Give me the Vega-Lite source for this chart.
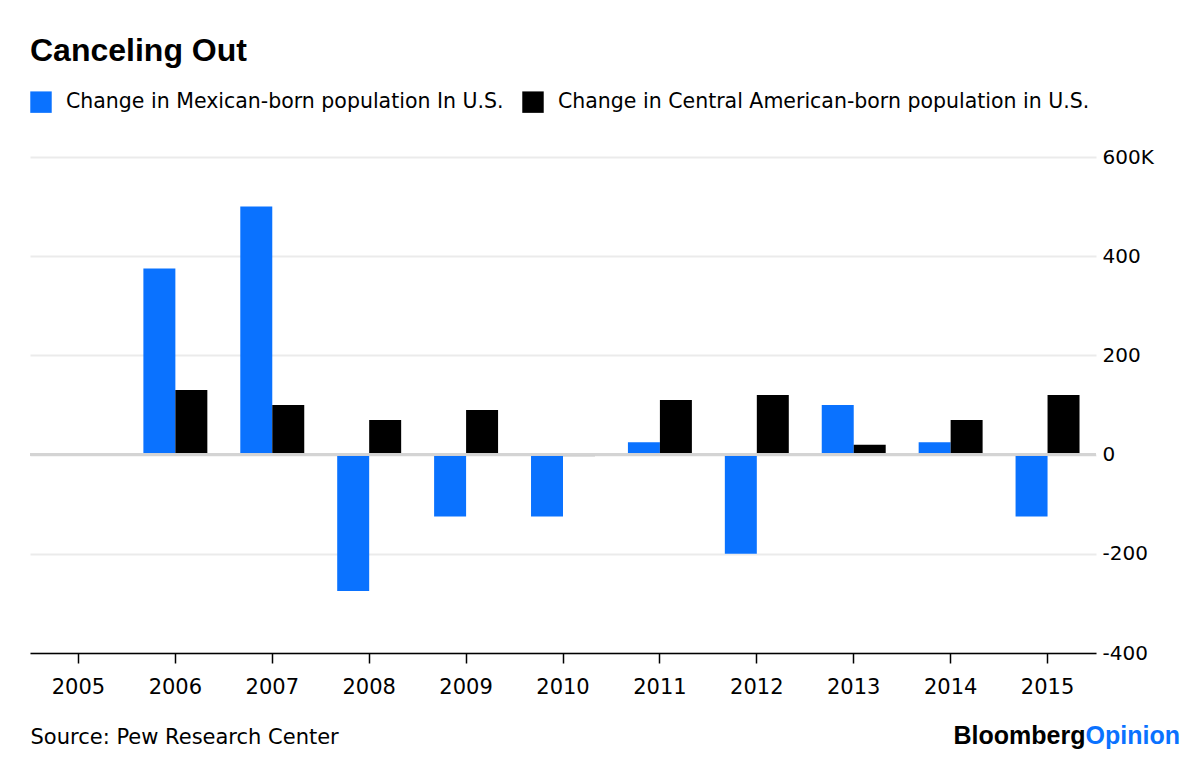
{
  "$schema": "https://vega.github.io/schema/vega-lite/v6.json",
  "autosize": {"type": "none"},
  "width": 1066,
  "height": 496,
  "padding": {"left": 30, "top": 157, "right": 104, "bottom": 109},
  "background": "white",
  "config": {
    "font": "DejaVu Sans",
    "view": {"stroke": null}
  },
  "title": {
    "text": "Canceling Out",
    "anchor": "start",
    "frame": "group",
    "fontSize": 32,
    "fontWeight": "bold",
    "font": "Liberation Sans",
    "color": "black",
    "baseline": "alphabetic",
    "offset": -2
  },
  "data": {
    "values": [
      {"year": "2006", "series": "Change in Mexican-born population In U.S.", "value": 375},
      {"year": "2006", "series": "Change in Central American-born population in U.S.", "value": 130},
      {"year": "2007", "series": "Change in Mexican-born population In U.S.", "value": 500},
      {"year": "2007", "series": "Change in Central American-born population in U.S.", "value": 100},
      {"year": "2008", "series": "Change in Mexican-born population In U.S.", "value": -275},
      {"year": "2008", "series": "Change in Central American-born population in U.S.", "value": 70},
      {"year": "2009", "series": "Change in Mexican-born population In U.S.", "value": -125},
      {"year": "2009", "series": "Change in Central American-born population in U.S.", "value": 90},
      {"year": "2010", "series": "Change in Mexican-born population In U.S.", "value": -125},
      {"year": "2010", "series": "Change in Central American-born population in U.S.", "value": -3},
      {"year": "2011", "series": "Change in Mexican-born population In U.S.", "value": 25},
      {"year": "2011", "series": "Change in Central American-born population in U.S.", "value": 110},
      {"year": "2012", "series": "Change in Mexican-born population In U.S.", "value": -200},
      {"year": "2012", "series": "Change in Central American-born population in U.S.", "value": 120},
      {"year": "2013", "series": "Change in Mexican-born population In U.S.", "value": 100},
      {"year": "2013", "series": "Change in Central American-born population in U.S.", "value": 20},
      {"year": "2014", "series": "Change in Mexican-born population In U.S.", "value": 25},
      {"year": "2014", "series": "Change in Central American-born population in U.S.", "value": 70},
      {"year": "2015", "series": "Change in Mexican-born population In U.S.", "value": -125},
      {"year": "2015", "series": "Change in Central American-born population in U.S.", "value": 120}
    ]
  },
  "layer": [
    {
      "mark": {"type": "bar"},
      "encoding": {
        "x": {
          "field": "year",
          "type": "ordinal",
          "scale": {"domain": ["2005","2006","2007","2008","2009","2010","2011","2012","2013","2014","2015"], "paddingInner": 0.34, "paddingOuter": 0.17},
          "axis": {
            "title": "Source: Pew Research Center",
            "titleFont": "DejaVu Sans",
            "titleFontSize": 21,
            "titleFontWeight": "normal",
            "titleColor": "black",
            "titleAnchor": "start",
            "titleAlign": "left",
            "titleBaseline": "alphabetic",
            "titleX": 0,
            "titleY": 90,
            "labelAngle": 0,
            "labelFontSize": 21,
            "labelColor": "black",
            "labelPadding": 13,
            "domainColor": "black",
            "domainWidth": 1.5,
            "tickColor": "black",
            "tickSize": 10,
            "tickWidth": 1.5,
            "grid": false
          }
        },
        "xOffset": {
          "field": "series",
          "type": "nominal",
          "sort": ["Change in Mexican-born population In U.S.", "Change in Central American-born population in U.S."],
          "scale": {"paddingInner": 0, "paddingOuter": 0}
        },
        "y": {
          "field": "value",
          "type": "quantitative",
          "scale": {"domain": [-400, 600], "nice": false, "zero": false},
          "axis": {
            "orient": "right",
            "values": [-400, -200, 0, 200, 400, 600],
            "labelExpr": "datum.value == 600 ? '600K' : '' + datum.value",
            "labelFontSize": 20,
            "labelColor": "black",
            "labelPadding": 6,
            "ticks": false,
            "domain": false,
            "grid": true,
            "gridColor": "#ebebeb",
            "gridWidth": 2,
            "title": "Bloomberg",
            "titleFont": "Liberation Sans",
            "titleFontSize": 25,
            "titleFontWeight": "bold",
            "titleColor": "black",
            "titleAngle": 0,
            "titleAlign": "right",
            "titleBaseline": "alphabetic",
            "titleX": -11,
            "titleY": 586
          }
        },
        "color": {
          "field": "series",
          "type": "nominal",
          "sort": ["Change in Mexican-born population In U.S.", "Change in Central American-born population in U.S."],
          "scale": {"range": ["#0a72ff", "#000000"]},
          "legend": {
            "title": null,
            "orient": "none",
            "direction": "horizontal",
            "legendX": 0,
            "legendY": -66,
            "symbolType": "square",
            "symbolSize": 460,
            "symbolStrokeWidth": 0,
            "symbolOpacity": 1,
            "labelFont": "DejaVu Sans",
            "labelFontSize": 20.5,
            "labelColor": "black",
            "labelOffset": 14,
            "labelLimit": 700,
            "columnPadding": 18
          }
        }
      }
    },
    {
      "mark": {"type": "rule", "color": "#d4d4d4", "strokeWidth": 1.5},
      "encoding": {
        "y": {
          "datum": 0,
          "type": "quantitative",
          "scale": {"domain": [-400, 600], "nice": false, "zero": false},
          "axis": {
            "orient": "left",
            "values": [],
            "labels": false,
            "ticks": false,
            "domain": false,
            "grid": false,
            "title": "Opinion",
            "titleFont": "Liberation Sans",
            "titleFontSize": 25,
            "titleFontWeight": "bold",
            "titleColor": "#0a72ff",
            "titleAngle": 0,
            "titleAlign": "left",
            "titleBaseline": "alphabetic",
            "titleX": 1055,
            "titleY": 586
          }
        }
      }
    }
  ],
  "resolve": {"scale": {"y": "independent"}}
}
